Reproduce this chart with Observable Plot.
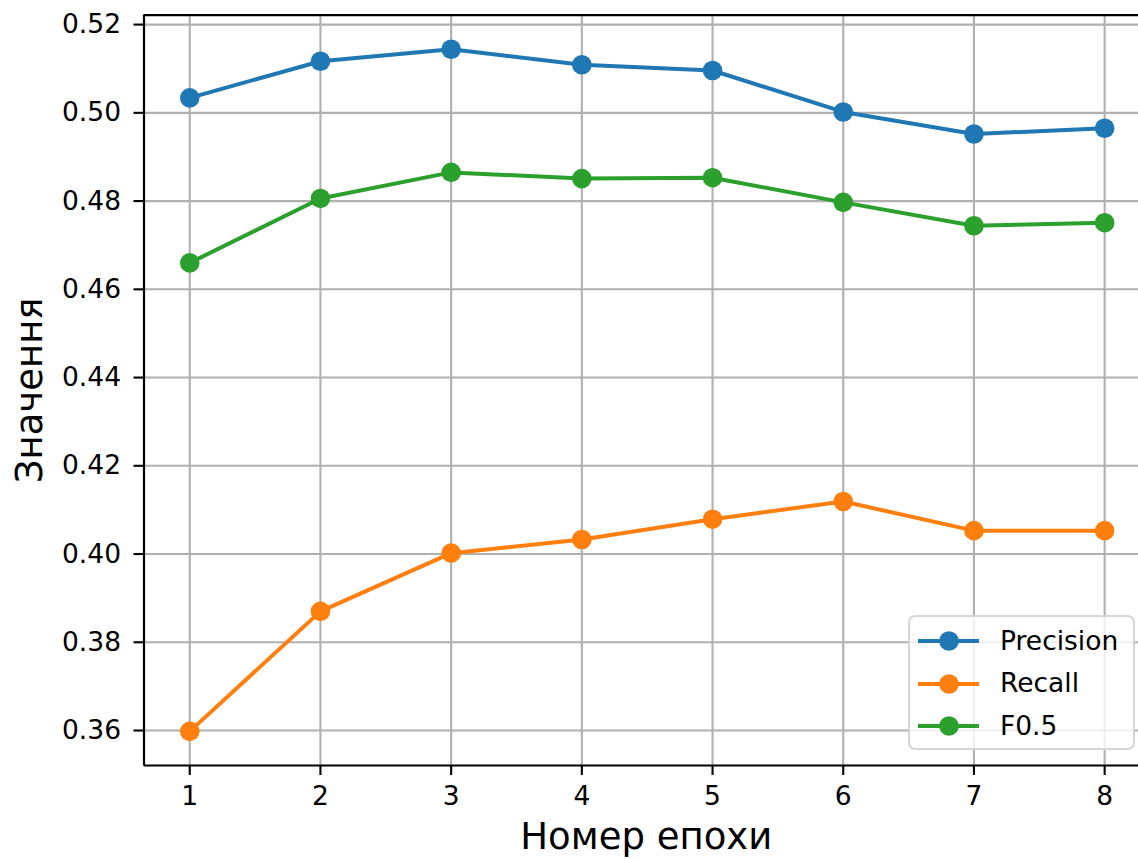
<!DOCTYPE html>
<html>
<head>
<meta charset="utf-8">
<script src="https://cdn.jsdelivr.net/npm/d3@7"></script>
<script src="https://cdn.jsdelivr.net/npm/@observablehq/plot@0.6"></script>
<style>
  html, body { margin: 0; padding: 0; background: #fff; }
  #wrap { position: relative; width: 1138px; height: 859px; overflow: hidden; font-family: "DejaVu Sans", sans-serif; }
  #legend {
    position: absolute; left: 908px; top: 615px; width: 223px; height: 131px;
    border: 2px solid #d6d6d6; border-radius: 7px; background: rgba(255,255,255,0.8);
    box-sizing: content-box;
  }
  .row { position: absolute; left: 0; height: 40px; display: flex; align-items: center; }
  .row svg { display: block; }
  .row span { font-size: 26.5px; color: #000; margin-left: 10px; line-height: 1; }
</style>
</head>
<body>
<div id="wrap"><div id="chart"></div><div id="legend"></div></div>
<script>
const epochs = [1, 2, 3, 4, 5, 6, 7, 8];
const seriesNames = ["Precision", "Recall", "F0.5"];
const seriesColors = ["#1f77b4", "#ff7f0e", "#2ca02c"];
const precision = [0.5034, 0.5117, 0.5144, 0.5109, 0.5096, 0.5002, 0.4952, 0.4965];
const recall    = [0.3598, 0.3870, 0.4002, 0.4033, 0.4079, 0.4119, 0.4053, 0.4053];
const f05       = [0.4660, 0.4806, 0.4865, 0.4851, 0.4853, 0.4797, 0.4744, 0.4751];
const yTicks = [0.36, 0.38, 0.40, 0.42, 0.44, 0.46, 0.48, 0.50, 0.52];
const xLabel = "Номер епохи";
const yLabel = "Значення";

const seriesValues = [precision, recall, f05];
const data = [];
seriesNames.forEach((name, i) => {
  epochs.forEach((e, j) => data.push({series: name, epoch: e, value: seriesValues[i][j]}));
});

const xDomain = [0.65, 8.259];
const yDomain = [0.35207, 0.52213];

const chart = Plot.plot({
  width: 1138,
  height: 859,
  marginLeft: 143.5,
  marginRight: 0,
  marginTop: 14.7,
  marginBottom: 94,
  style: {fontFamily: "DejaVu Sans, sans-serif", fontSize: "26.5px", color: "#000", background: "#fff", overflow: "hidden"},
  x: {domain: xDomain},
  y: {domain: yDomain},
  color: {domain: seriesNames, range: seriesColors},
  marks: [
    Plot.gridX(epochs, {stroke: "#b0b0b0", strokeOpacity: 1, strokeWidth: 2.1}),
    Plot.gridY(yTicks, {stroke: "#b0b0b0", strokeOpacity: 1, strokeWidth: 2.1}),
    Plot.axisX(epochs, {tickSize: 10, tickPadding: 11, strokeWidth: 2.1, label: null, tickFormat: d3.format("d"), fontSize: 26.5}),
    Plot.axisY(yTicks, {tickSize: 10, tickPadding: 13, strokeWidth: 2.1, label: null, tickFormat: d3.format(".2f"), fontSize: 26.5}),
    Plot.line(data, {x: "epoch", y: "value", z: "series", stroke: "series", strokeWidth: 4}),
    Plot.dot(data, {x: "epoch", y: "value", fill: "series", r: 9.8, stroke: "none"}),
    Plot.ruleX([xDomain[0]], {stroke: "#000", strokeWidth: 2.2}),
    Plot.ruleY(yDomain, {stroke: "#000", strokeWidth: 2.2}),
    Plot.text([yLabel], {frameAnchor: "left", textAnchor: "middle", lineAnchor: "middle", rotate: -90, dx: -113.5, fontSize: 37, fill: "#000"}),
    Plot.text([xLabel], {frameAnchor: "bottom", textAnchor: "middle", lineAnchor: "middle", dx: 5, dy: 72, fontSize: 37, fill: "#000"})
  ]
});
document.getElementById("chart").appendChild(chart);

// legend
const legend = document.getElementById("legend");
seriesNames.forEach((name, i) => {
  const row = document.createElement("div");
  row.className = "row";
  row.style.top = (4 + i * 42.5) + "px";
  row.innerHTML = `<svg width="80" height="40"><line x1="8" x2="69" y1="20" y2="20" stroke="${seriesColors[i]}" stroke-width="4"/><circle cx="39" cy="20" r="9.8" fill="${seriesColors[i]}"/></svg><span>${name}</span>`;
  legend.appendChild(row);
});
</script>
</body>
</html>
